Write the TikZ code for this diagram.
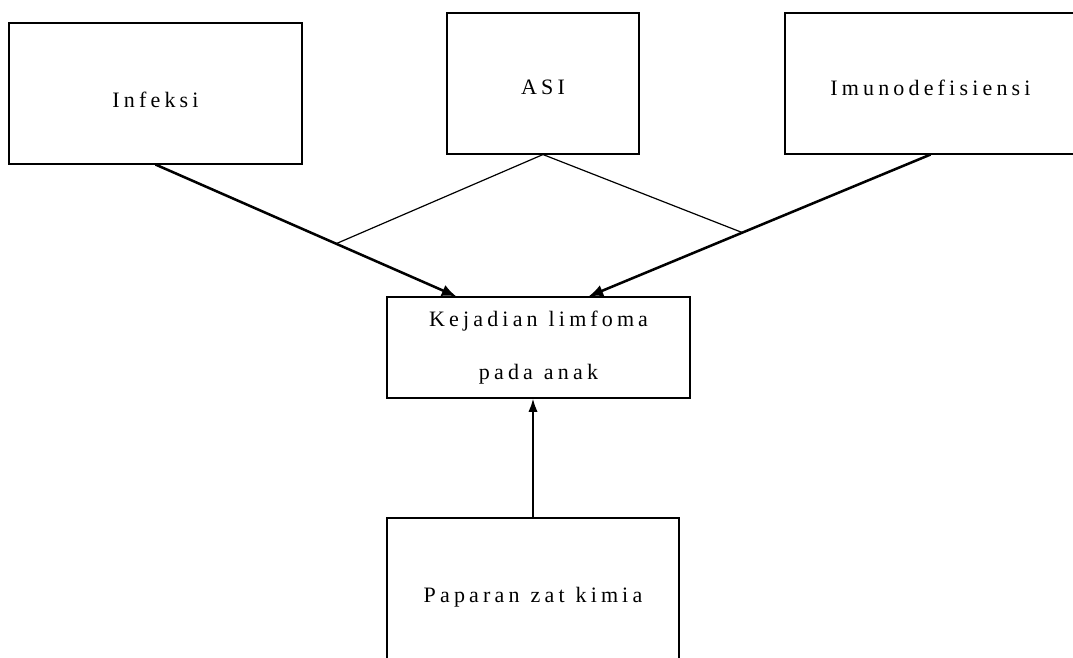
\documentclass[tikz,border=0pt]{standalone}
\usepackage{fontspec}
\setmainfont{Liberation Serif}[LetterSpace=19]
\usetikzlibrary{calc,arrows.meta}
\newcommand{\gp}{\kern3pt}
\newcommand{\boxfont}{\fontsize{16.5}{39.75}\selectfont\fontdimen2\font=0.5em\relax}

\begin{document}
\begin{tikzpicture}[x=0.75pt,y=-0.75pt,
    box/.style={draw,line width=0.8pt,inner sep=0pt,align=center,font=\boxfont},
    link/.style={line width=1.9pt,-{Latex[length=11pt,width=9pt]}},
    branch/.style={line width=0.9pt}]
    \path[use as bounding box] (0,0) rectangle (1073,657);

    % factor boxes
    \node[box,text height=21pt,minimum width=219.75pt,minimum height=105.75pt] (infeksi) at (155.5,93.5) {Infeksi};
    \node[box,text height=16pt,minimum width=144pt,minimum height=105.75pt] (asi) at (543,83.5) {ASI};
    \node[box,text height=18pt,minimum width=218.25pt,minimum height=105.75pt] (imuno) at (930.5,83.5) {Im\gp unodefisiensi};
    \node[box,minimum width=227.25pt,minimum height=75.75pt] (kejadian) at (538.5,347.5) {Kejadian lim\gp fom\gp a\\pada anak};
    \node[box,minimum width=219pt,minimum height=118.5pt] (paparan) at (533,597) {Paparan zat kim\gp ia};

    \coordinate (inL) at ($(kejadian.north west)+(70,0)$);
    \coordinate (inR) at ($(kejadian.north west)+(202,0)$);

    \draw[link] (infeksi.south) -- (inL);
    \draw[link] (imuno.south) -- (inR);
    \draw[line width=1.5pt,-{Latex[length=10pt,width=7pt]}] (paparan.north) -- (paparan.north |- kejadian.south);

    % ASI joins both arrows
    \coordinate (jL) at ($(infeksi.south)!0.6!(inL)$);
    \coordinate (jR) at ($(imuno.south)!0.55!(inR)$);
    \draw[branch] (jL) -- (asi.south) -- (jR);
\end{tikzpicture}
\end{document}
